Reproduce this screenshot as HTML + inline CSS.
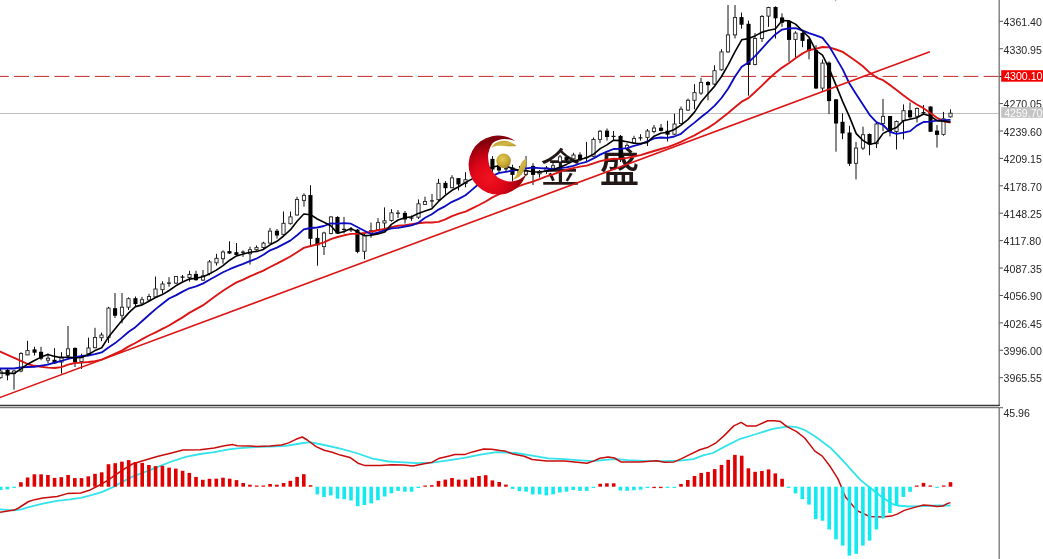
<!DOCTYPE html>
<html><head><meta charset="utf-8"><title>chart</title>
<style>
html,body{margin:0;padding:0;background:#fff;}
body{width:1043px;height:559px;overflow:hidden;position:relative;}
svg{position:absolute;left:0;top:0;display:block;}
.ax{font-family:"Liberation Sans",Arial,sans-serif;font-size:10.6px;fill:#262626;}
.cjk{font-family:"Liberation Sans","Noto Sans CJK SC",sans-serif;font-weight:400;font-size:40px;fill:#231815;}
</style></head><body>
<svg width="1043" height="559" viewBox="0 0 1043 559">
<defs>
<clipPath id="mainclip"><rect x="0" y="0" width="999" height="404.5"/></clipPath>
<clipPath id="subclip"><rect x="0" y="408" width="999" height="151"/></clipPath>
<radialGradient id="crg" gradientUnits="userSpaceOnUse" cx="489" cy="178" r="36">
<stop offset="0" stop-color="#f2121f"/><stop offset="0.45" stop-color="#de0619"/><stop offset="0.75" stop-color="#b4000f"/><stop offset="1" stop-color="#82000c"/>
</radialGradient>
<radialGradient id="gold" cx="0.42" cy="0.38" r="0.68">
<stop offset="0" stop-color="#e2cb55"/><stop offset="0.55" stop-color="#cbab36"/><stop offset="1" stop-color="#a58522"/>
</radialGradient>
<linearGradient id="gold2" x1="0" y1="0" x2="1" y2="1">
<stop offset="0" stop-color="#b59428"/><stop offset="0.5" stop-color="#d2b645"/><stop offset="1" stop-color="#a88a24"/>
</linearGradient>
</defs>

<g clip-path="url(#mainclip)">
<text class="cjk" x="540.5" y="181.5">金</text>
<text class="cjk" x="599.5" y="181.5" style="font-weight:500">盛</text>
<rect x="834.9" y="0" width="1.4" height="1.3" fill="#b0b0b0"/>
<line x1="0" y1="113.5" x2="999" y2="113.5" stroke="#c0c0c0" stroke-width="1"/>
<line x1="-6.2" y1="76.4" x2="999" y2="76.4" stroke="#c02a2a" stroke-width="1" stroke-dasharray="15 5.2"/>
<line x1="0.5" y1="368.3" x2="0.5" y2="378.5" stroke="#111" stroke-width="1"/>
<rect x="-1.1" y="371.0" width="3.2" height="6.7" fill="#fff" stroke="#222" stroke-width="0.9"/>
<line x1="7.5" y1="369.0" x2="7.5" y2="380.3" stroke="#111" stroke-width="1"/>
<rect x="5.5" y="369.9" width="4.1" height="5.6" fill="#000"/>
<line x1="14.0" y1="370.0" x2="14.0" y2="389.7" stroke="#111" stroke-width="1"/>
<rect x="12.4" y="371.0" width="3.2" height="2.6" fill="#fff" stroke="#222" stroke-width="0.9"/>
<line x1="21.0" y1="352.2" x2="21.0" y2="372.3" stroke="#111" stroke-width="1"/>
<rect x="19.4" y="353.5" width="3.2" height="17.5" fill="#fff" stroke="#222" stroke-width="0.9"/>
<line x1="27.5" y1="340.8" x2="27.5" y2="355.0" stroke="#111" stroke-width="1"/>
<rect x="25.9" y="350.6" width="3.2" height="4.3" fill="#fff" stroke="#222" stroke-width="0.9"/>
<line x1="34.5" y1="346.8" x2="34.5" y2="355.5" stroke="#111" stroke-width="1"/>
<rect x="32.5" y="349.4" width="4.1" height="3.3" fill="#000"/>
<line x1="41.0" y1="346.8" x2="41.0" y2="360.2" stroke="#111" stroke-width="1"/>
<rect x="39.0" y="351.8" width="4.1" height="6.9" fill="#000"/>
<line x1="48.0" y1="353.5" x2="48.0" y2="363.6" stroke="#111" stroke-width="1"/>
<rect x="46.4" y="358.2" width="3.2" height="2.0" fill="#fff" stroke="#222" stroke-width="0.9"/>
<line x1="54.5" y1="348.2" x2="54.5" y2="364.0" stroke="#111" stroke-width="1"/>
<rect x="52.5" y="359.8" width="4.1" height="3.7" fill="#000"/>
<line x1="61.5" y1="352.2" x2="61.5" y2="373.6" stroke="#111" stroke-width="1"/>
<rect x="59.9" y="357.0" width="3.2" height="5.0" fill="#fff" stroke="#222" stroke-width="0.9"/>
<line x1="68.0" y1="326.0" x2="68.0" y2="357.0" stroke="#111" stroke-width="1"/>
<rect x="66.4" y="348.8" width="3.2" height="6.7" fill="#fff" stroke="#222" stroke-width="0.9"/>
<line x1="75.0" y1="347.4" x2="75.0" y2="367.0" stroke="#111" stroke-width="1"/>
<rect x="73.0" y="347.9" width="4.1" height="14.3" fill="#000"/>
<line x1="81.5" y1="353.7" x2="81.5" y2="368.9" stroke="#111" stroke-width="1"/>
<rect x="79.9" y="357.0" width="3.2" height="4.7" fill="#fff" stroke="#222" stroke-width="0.9"/>
<line x1="88.5" y1="337.6" x2="88.5" y2="354.6" stroke="#111" stroke-width="1"/>
<rect x="86.9" y="348.0" width="3.2" height="5.7" fill="#fff" stroke="#222" stroke-width="0.9"/>
<line x1="95.0" y1="327.8" x2="95.0" y2="348.3" stroke="#111" stroke-width="1"/>
<rect x="93.4" y="337.5" width="3.2" height="10.2" fill="#fff" stroke="#222" stroke-width="0.9"/>
<line x1="101.5" y1="332.6" x2="101.5" y2="341.2" stroke="#111" stroke-width="1"/>
<rect x="99.9" y="335.0" width="3.2" height="2.7" fill="#fff" stroke="#222" stroke-width="0.9"/>
<line x1="108.5" y1="306.9" x2="108.5" y2="343.0" stroke="#111" stroke-width="1"/>
<rect x="106.9" y="308.1" width="3.2" height="29.6" fill="#fff" stroke="#222" stroke-width="0.9"/>
<line x1="115.0" y1="293.0" x2="115.0" y2="318.0" stroke="#111" stroke-width="1"/>
<rect x="113.0" y="308.2" width="4.1" height="7.5" fill="#000"/>
<line x1="122.0" y1="293.0" x2="122.0" y2="323.3" stroke="#111" stroke-width="1"/>
<rect x="120.4" y="307.2" width="3.2" height="8.1" fill="#fff" stroke="#222" stroke-width="0.9"/>
<line x1="128.5" y1="297.4" x2="128.5" y2="310.0" stroke="#111" stroke-width="1"/>
<rect x="126.9" y="298.7" width="3.2" height="8.5" fill="#fff" stroke="#222" stroke-width="0.9"/>
<line x1="135.5" y1="296.5" x2="135.5" y2="307.2" stroke="#111" stroke-width="1"/>
<rect x="133.4" y="298.2" width="4.1" height="5.9" fill="#000"/>
<line x1="142.0" y1="296.9" x2="142.0" y2="304.0" stroke="#111" stroke-width="1"/>
<rect x="140.4" y="299.7" width="3.2" height="3.4" fill="#fff" stroke="#222" stroke-width="0.9"/>
<line x1="149.0" y1="293.8" x2="149.0" y2="301.0" stroke="#111" stroke-width="1"/>
<rect x="147.4" y="296.5" width="3.2" height="3.5" fill="#fff" stroke="#222" stroke-width="0.9"/>
<line x1="155.5" y1="276.5" x2="155.5" y2="297.4" stroke="#111" stroke-width="1"/>
<rect x="153.9" y="289.0" width="3.2" height="7.9" fill="#fff" stroke="#222" stroke-width="0.9"/>
<line x1="162.5" y1="281.3" x2="162.5" y2="293.8" stroke="#111" stroke-width="1"/>
<rect x="160.9" y="284.0" width="3.2" height="5.7" fill="#fff" stroke="#222" stroke-width="0.9"/>
<line x1="169.0" y1="277.2" x2="169.0" y2="286.7" stroke="#111" stroke-width="1"/>
<line x1="167.0" y1="283.1" x2="171.0" y2="283.1" stroke="#111" stroke-width="1.2"/>
<line x1="176.0" y1="276.0" x2="176.0" y2="284.0" stroke="#111" stroke-width="1"/>
<rect x="174.4" y="276.5" width="3.2" height="6.6" fill="#fff" stroke="#222" stroke-width="0.9"/>
<line x1="182.5" y1="275.0" x2="182.5" y2="281.3" stroke="#111" stroke-width="1"/>
<line x1="180.5" y1="277.2" x2="184.5" y2="277.2" stroke="#111" stroke-width="1.2"/>
<line x1="189.5" y1="270.8" x2="189.5" y2="281.6" stroke="#111" stroke-width="1"/>
<rect x="187.9" y="274.5" width="3.2" height="3.1" fill="#fff" stroke="#222" stroke-width="0.9"/>
<line x1="196.0" y1="270.8" x2="196.0" y2="280.7" stroke="#111" stroke-width="1"/>
<rect x="193.9" y="273.9" width="4.1" height="6.3" fill="#000"/>
<line x1="203.0" y1="270.0" x2="203.0" y2="281.0" stroke="#111" stroke-width="1"/>
<rect x="201.4" y="275.8" width="3.2" height="4.3" fill="#fff" stroke="#222" stroke-width="0.9"/>
<line x1="209.5" y1="260.0" x2="209.5" y2="275.3" stroke="#111" stroke-width="1"/>
<rect x="207.9" y="261.9" width="3.2" height="11.6" fill="#fff" stroke="#222" stroke-width="0.9"/>
<line x1="216.5" y1="253.8" x2="216.5" y2="265.5" stroke="#111" stroke-width="1"/>
<rect x="214.9" y="258.3" width="3.2" height="4.5" fill="#fff" stroke="#222" stroke-width="0.9"/>
<line x1="223.0" y1="250.3" x2="223.0" y2="263.7" stroke="#111" stroke-width="1"/>
<rect x="221.4" y="252.0" width="3.2" height="6.7" fill="#fff" stroke="#222" stroke-width="0.9"/>
<line x1="229.5" y1="241.3" x2="229.5" y2="254.0" stroke="#111" stroke-width="1"/>
<rect x="227.4" y="251.1" width="4.1" height="2.4" fill="#000"/>
<line x1="236.5" y1="243.0" x2="236.5" y2="255.6" stroke="#111" stroke-width="1"/>
<rect x="234.4" y="252.2" width="4.1" height="2.7" fill="#000"/>
<line x1="243.0" y1="250.3" x2="243.0" y2="256.9" stroke="#111" stroke-width="1"/>
<line x1="241.0" y1="252.2" x2="245.0" y2="252.2" stroke="#111" stroke-width="1.2"/>
<line x1="250.0" y1="246.7" x2="250.0" y2="264.6" stroke="#111" stroke-width="1"/>
<rect x="248.4" y="249.7" width="3.2" height="4.1" fill="#fff" stroke="#222" stroke-width="0.9"/>
<line x1="256.5" y1="245.4" x2="256.5" y2="250.5" stroke="#111" stroke-width="1"/>
<rect x="254.9" y="247.6" width="3.2" height="2.1" fill="#fff" stroke="#222" stroke-width="0.9"/>
<line x1="263.5" y1="241.8" x2="263.5" y2="249.0" stroke="#111" stroke-width="1"/>
<rect x="261.9" y="243.1" width="3.2" height="4.5" fill="#fff" stroke="#222" stroke-width="0.9"/>
<line x1="270.0" y1="227.9" x2="270.0" y2="243.6" stroke="#111" stroke-width="1"/>
<rect x="268.4" y="231.1" width="3.2" height="12.0" fill="#fff" stroke="#222" stroke-width="0.9"/>
<line x1="277.0" y1="229.0" x2="277.0" y2="238.6" stroke="#111" stroke-width="1"/>
<rect x="274.9" y="230.7" width="4.1" height="4.8" fill="#000"/>
<line x1="283.5" y1="211.5" x2="283.5" y2="235.3" stroke="#111" stroke-width="1"/>
<rect x="281.9" y="223.3" width="3.2" height="11.1" fill="#fff" stroke="#222" stroke-width="0.9"/>
<line x1="290.5" y1="211.5" x2="290.5" y2="224.5" stroke="#111" stroke-width="1"/>
<rect x="288.9" y="216.9" width="3.2" height="6.8" fill="#fff" stroke="#222" stroke-width="0.9"/>
<line x1="297.0" y1="196.8" x2="297.0" y2="215.6" stroke="#111" stroke-width="1"/>
<rect x="295.4" y="199.5" width="3.2" height="15.5" fill="#fff" stroke="#222" stroke-width="0.9"/>
<line x1="304.0" y1="193.3" x2="304.0" y2="206.7" stroke="#111" stroke-width="1"/>
<rect x="302.4" y="195.4" width="3.2" height="5.0" fill="#fff" stroke="#222" stroke-width="0.9"/>
<line x1="310.5" y1="185.2" x2="310.5" y2="245.1" stroke="#111" stroke-width="1"/>
<rect x="308.4" y="195.0" width="4.1" height="43.8" fill="#000"/>
<line x1="317.5" y1="229.0" x2="317.5" y2="265.7" stroke="#111" stroke-width="1"/>
<rect x="315.4" y="237.9" width="4.1" height="7.4" fill="#000"/>
<line x1="324.0" y1="231.7" x2="324.0" y2="255.0" stroke="#111" stroke-width="1"/>
<rect x="322.4" y="233.0" width="3.2" height="13.6" fill="#fff" stroke="#222" stroke-width="0.9"/>
<line x1="331.0" y1="216.2" x2="331.0" y2="234.4" stroke="#111" stroke-width="1"/>
<rect x="329.4" y="216.9" width="3.2" height="16.6" fill="#fff" stroke="#222" stroke-width="0.9"/>
<line x1="337.5" y1="216.2" x2="337.5" y2="234.0" stroke="#111" stroke-width="1"/>
<rect x="335.4" y="217.0" width="4.1" height="16.5" fill="#000"/>
<line x1="344.0" y1="216.9" x2="344.0" y2="233.5" stroke="#111" stroke-width="1"/>
<line x1="342.0" y1="229.4" x2="346.0" y2="229.4" stroke="#111" stroke-width="1.2"/>
<line x1="351.0" y1="227.0" x2="351.0" y2="232.0" stroke="#111" stroke-width="1"/>
<line x1="349.0" y1="229.8" x2="353.0" y2="229.8" stroke="#111" stroke-width="1.2"/>
<line x1="357.5" y1="229.0" x2="357.5" y2="253.2" stroke="#111" stroke-width="1"/>
<rect x="355.4" y="229.6" width="4.1" height="22.3" fill="#000"/>
<line x1="364.5" y1="233.5" x2="364.5" y2="259.3" stroke="#111" stroke-width="1"/>
<rect x="362.9" y="235.2" width="3.2" height="16.1" fill="#fff" stroke="#222" stroke-width="0.9"/>
<line x1="371.0" y1="222.6" x2="371.0" y2="237.8" stroke="#111" stroke-width="1"/>
<rect x="369.4" y="230.7" width="3.2" height="2.6" fill="#fff" stroke="#222" stroke-width="0.9"/>
<line x1="378.0" y1="218.1" x2="378.0" y2="230.7" stroke="#111" stroke-width="1"/>
<rect x="376.4" y="222.6" width="3.2" height="7.2" fill="#fff" stroke="#222" stroke-width="0.9"/>
<line x1="384.5" y1="207.4" x2="384.5" y2="228.9" stroke="#111" stroke-width="1"/>
<rect x="382.9" y="220.8" width="3.2" height="2.2" fill="#fff" stroke="#222" stroke-width="0.9"/>
<line x1="391.5" y1="209.2" x2="391.5" y2="221.7" stroke="#111" stroke-width="1"/>
<rect x="389.9" y="212.8" width="3.2" height="7.7" fill="#fff" stroke="#222" stroke-width="0.9"/>
<line x1="398.0" y1="210.0" x2="398.0" y2="218.1" stroke="#111" stroke-width="1"/>
<line x1="396.0" y1="213.2" x2="400.0" y2="213.2" stroke="#111" stroke-width="1.2"/>
<line x1="405.0" y1="211.0" x2="405.0" y2="223.5" stroke="#111" stroke-width="1"/>
<rect x="402.9" y="212.9" width="4.1" height="6.6" fill="#000"/>
<line x1="411.5" y1="215.5" x2="411.5" y2="220.8" stroke="#111" stroke-width="1"/>
<line x1="409.5" y1="218.1" x2="413.5" y2="218.1" stroke="#111" stroke-width="1.2"/>
<line x1="418.5" y1="199.4" x2="418.5" y2="219.0" stroke="#111" stroke-width="1"/>
<rect x="416.9" y="203.8" width="3.2" height="13.4" fill="#fff" stroke="#222" stroke-width="0.9"/>
<line x1="425.0" y1="196.7" x2="425.0" y2="205.0" stroke="#111" stroke-width="1"/>
<rect x="423.4" y="201.5" width="3.2" height="2.9" fill="#fff" stroke="#222" stroke-width="0.9"/>
<line x1="432.0" y1="194.0" x2="432.0" y2="207.4" stroke="#111" stroke-width="1"/>
<line x1="430.0" y1="200.9" x2="434.0" y2="200.9" stroke="#111" stroke-width="1.2"/>
<line x1="438.5" y1="178.8" x2="438.5" y2="201.0" stroke="#111" stroke-width="1"/>
<rect x="436.9" y="183.3" width="3.2" height="16.4" fill="#fff" stroke="#222" stroke-width="0.9"/>
<line x1="445.5" y1="181.1" x2="445.5" y2="194.0" stroke="#111" stroke-width="1"/>
<rect x="443.4" y="182.9" width="4.1" height="5.3" fill="#000"/>
<line x1="452.0" y1="175.2" x2="452.0" y2="188.3" stroke="#111" stroke-width="1"/>
<rect x="450.4" y="177.9" width="3.2" height="9.8" fill="#fff" stroke="#222" stroke-width="0.9"/>
<line x1="458.5" y1="178.0" x2="458.5" y2="190.5" stroke="#111" stroke-width="1"/>
<rect x="456.4" y="178.1" width="4.1" height="6.4" fill="#000"/>
<line x1="465.5" y1="172.2" x2="465.5" y2="187.3" stroke="#111" stroke-width="1"/>
<rect x="463.9" y="179.7" width="3.2" height="3.8" fill="#fff" stroke="#222" stroke-width="0.9"/>
<line x1="472.0" y1="162.0" x2="472.0" y2="172.0" stroke="#111" stroke-width="1"/>
<rect x="470.4" y="165.0" width="3.2" height="5.0" fill="#fff" stroke="#222" stroke-width="0.9"/>
<line x1="479.0" y1="160.0" x2="479.0" y2="169.0" stroke="#111" stroke-width="1"/>
<rect x="477.4" y="163.0" width="3.2" height="4.0" fill="#fff" stroke="#222" stroke-width="0.9"/>
<line x1="485.5" y1="157.0" x2="485.5" y2="166.0" stroke="#111" stroke-width="1"/>
<rect x="483.9" y="160.0" width="3.2" height="4.0" fill="#fff" stroke="#222" stroke-width="0.9"/>
<line x1="492.5" y1="156.1" x2="492.5" y2="172.0" stroke="#111" stroke-width="1"/>
<rect x="490.4" y="158.9" width="4.1" height="10.6" fill="#000"/>
<line x1="499.0" y1="163.0" x2="499.0" y2="172.7" stroke="#111" stroke-width="1"/>
<rect x="496.9" y="165.6" width="4.1" height="4.9" fill="#000"/>
<line x1="506.0" y1="165.0" x2="506.0" y2="172.0" stroke="#111" stroke-width="1"/>
<line x1="504.0" y1="168.8" x2="508.0" y2="168.8" stroke="#111" stroke-width="1.2"/>
<line x1="512.5" y1="164.7" x2="512.5" y2="181.4" stroke="#111" stroke-width="1"/>
<rect x="510.4" y="167.5" width="4.1" height="7.4" fill="#000"/>
<line x1="519.5" y1="166.0" x2="519.5" y2="176.0" stroke="#111" stroke-width="1"/>
<rect x="517.9" y="170.0" width="3.2" height="4.0" fill="#fff" stroke="#222" stroke-width="0.9"/>
<line x1="526.0" y1="156.1" x2="526.0" y2="176.0" stroke="#111" stroke-width="1"/>
<rect x="524.4" y="171.0" width="3.2" height="3.4" fill="#fff" stroke="#222" stroke-width="0.9"/>
<line x1="533.0" y1="163.2" x2="533.0" y2="185.0" stroke="#111" stroke-width="1"/>
<rect x="531.0" y="165.9" width="4.1" height="9.0" fill="#000"/>
<line x1="539.5" y1="170.0" x2="539.5" y2="177.6" stroke="#111" stroke-width="1"/>
<rect x="537.9" y="171.3" width="3.2" height="2.5" fill="#fff" stroke="#222" stroke-width="0.9"/>
<line x1="546.5" y1="166.0" x2="546.5" y2="174.0" stroke="#111" stroke-width="1"/>
<rect x="544.9" y="168.0" width="3.2" height="3.5" fill="#fff" stroke="#222" stroke-width="0.9"/>
<line x1="553.0" y1="162.6" x2="553.0" y2="169.0" stroke="#111" stroke-width="1"/>
<rect x="551.4" y="165.7" width="3.2" height="2.5" fill="#fff" stroke="#222" stroke-width="0.9"/>
<line x1="560.0" y1="155.0" x2="560.0" y2="163.0" stroke="#111" stroke-width="1"/>
<rect x="558.4" y="156.9" width="3.2" height="5.0" fill="#fff" stroke="#222" stroke-width="0.9"/>
<line x1="566.5" y1="156.0" x2="566.5" y2="162.0" stroke="#111" stroke-width="1"/>
<rect x="564.5" y="157.1" width="4.1" height="3.4" fill="#000"/>
<line x1="573.5" y1="152.8" x2="573.5" y2="159.5" stroke="#111" stroke-width="1"/>
<rect x="571.9" y="155.0" width="3.2" height="3.8" fill="#fff" stroke="#222" stroke-width="0.9"/>
<line x1="580.0" y1="152.3" x2="580.0" y2="161.3" stroke="#111" stroke-width="1"/>
<rect x="578.0" y="154.6" width="4.1" height="5.7" fill="#000"/>
<line x1="586.5" y1="141.9" x2="586.5" y2="161.3" stroke="#111" stroke-width="1"/>
<line x1="584.5" y1="157.5" x2="588.5" y2="157.5" stroke="#111" stroke-width="1.2"/>
<line x1="593.5" y1="137.5" x2="593.5" y2="157.0" stroke="#111" stroke-width="1"/>
<rect x="591.9" y="139.4" width="3.2" height="16.9" fill="#fff" stroke="#222" stroke-width="0.9"/>
<line x1="600.0" y1="130.0" x2="600.0" y2="143.2" stroke="#111" stroke-width="1"/>
<rect x="598.4" y="131.3" width="3.2" height="8.1" fill="#fff" stroke="#222" stroke-width="0.9"/>
<line x1="607.0" y1="128.5" x2="607.0" y2="140.6" stroke="#111" stroke-width="1"/>
<rect x="605.0" y="130.6" width="4.1" height="6.4" fill="#000"/>
<line x1="613.5" y1="131.0" x2="613.5" y2="140.0" stroke="#111" stroke-width="1"/>
<line x1="611.5" y1="136.4" x2="615.5" y2="136.4" stroke="#111" stroke-width="1.2"/>
<line x1="620.5" y1="135.0" x2="620.5" y2="162.0" stroke="#111" stroke-width="1"/>
<rect x="618.5" y="135.9" width="4.1" height="23.9" fill="#000"/>
<line x1="627.0" y1="143.3" x2="627.0" y2="150.0" stroke="#111" stroke-width="1"/>
<rect x="625.4" y="145.4" width="3.2" height="3.3" fill="#fff" stroke="#222" stroke-width="0.9"/>
<line x1="634.0" y1="135.8" x2="634.0" y2="143.2" stroke="#111" stroke-width="1"/>
<rect x="632.4" y="138.5" width="3.2" height="4.3" fill="#fff" stroke="#222" stroke-width="0.9"/>
<line x1="640.5" y1="134.2" x2="640.5" y2="140.6" stroke="#111" stroke-width="1"/>
<line x1="638.5" y1="137.9" x2="642.5" y2="137.9" stroke="#111" stroke-width="1.2"/>
<line x1="647.5" y1="129.0" x2="647.5" y2="146.0" stroke="#111" stroke-width="1"/>
<rect x="645.9" y="131.0" width="3.2" height="6.4" fill="#fff" stroke="#222" stroke-width="0.9"/>
<line x1="654.0" y1="125.0" x2="654.0" y2="133.3" stroke="#111" stroke-width="1"/>
<rect x="652.4" y="128.0" width="3.2" height="3.5" fill="#fff" stroke="#222" stroke-width="0.9"/>
<line x1="661.0" y1="124.0" x2="661.0" y2="131.6" stroke="#111" stroke-width="1"/>
<rect x="659.0" y="127.7" width="4.1" height="3.2" fill="#000"/>
<line x1="667.5" y1="120.7" x2="667.5" y2="141.5" stroke="#111" stroke-width="1"/>
<rect x="665.5" y="130.7" width="4.1" height="4.0" fill="#000"/>
<line x1="674.5" y1="113.7" x2="674.5" y2="135.1" stroke="#111" stroke-width="1"/>
<rect x="672.9" y="124.0" width="3.2" height="10.2" fill="#fff" stroke="#222" stroke-width="0.9"/>
<line x1="681.0" y1="106.5" x2="681.0" y2="124.0" stroke="#111" stroke-width="1"/>
<rect x="679.4" y="109.2" width="3.2" height="14.3" fill="#fff" stroke="#222" stroke-width="0.9"/>
<line x1="688.0" y1="98.5" x2="688.0" y2="111.0" stroke="#111" stroke-width="1"/>
<rect x="686.4" y="100.3" width="3.2" height="9.8" fill="#fff" stroke="#222" stroke-width="0.9"/>
<line x1="694.5" y1="84.2" x2="694.5" y2="109.2" stroke="#111" stroke-width="1"/>
<rect x="692.9" y="92.6" width="3.2" height="7.7" fill="#fff" stroke="#222" stroke-width="0.9"/>
<line x1="701.0" y1="77.9" x2="701.0" y2="94.9" stroke="#111" stroke-width="1"/>
<rect x="699.4" y="82.4" width="3.2" height="10.7" fill="#fff" stroke="#222" stroke-width="0.9"/>
<line x1="708.0" y1="81.0" x2="708.0" y2="100.3" stroke="#111" stroke-width="1"/>
<rect x="706.0" y="82.0" width="4.1" height="3.2" fill="#000"/>
<line x1="714.5" y1="65.3" x2="714.5" y2="85.0" stroke="#111" stroke-width="1"/>
<rect x="712.9" y="70.7" width="3.2" height="13.4" fill="#fff" stroke="#222" stroke-width="0.9"/>
<line x1="721.5" y1="49.2" x2="721.5" y2="70.7" stroke="#111" stroke-width="1"/>
<rect x="719.9" y="51.9" width="3.2" height="17.9" fill="#fff" stroke="#222" stroke-width="0.9"/>
<line x1="728.0" y1="5.0" x2="728.0" y2="52.8" stroke="#111" stroke-width="1"/>
<rect x="726.4" y="34.9" width="3.2" height="17.0" fill="#fff" stroke="#222" stroke-width="0.9"/>
<line x1="735.0" y1="5.0" x2="735.0" y2="38.5" stroke="#111" stroke-width="1"/>
<rect x="733.4" y="17.5" width="3.2" height="17.4" fill="#fff" stroke="#222" stroke-width="0.9"/>
<line x1="741.5" y1="12.5" x2="741.5" y2="28.6" stroke="#111" stroke-width="1"/>
<rect x="739.5" y="17.1" width="4.1" height="7.6" fill="#000"/>
<line x1="748.5" y1="20.6" x2="748.5" y2="95.7" stroke="#111" stroke-width="1"/>
<rect x="746.5" y="23.8" width="4.1" height="41.1" fill="#000"/>
<line x1="755.0" y1="33.1" x2="755.0" y2="65.3" stroke="#111" stroke-width="1"/>
<rect x="753.4" y="38.5" width="3.2" height="25.9" fill="#fff" stroke="#222" stroke-width="0.9"/>
<line x1="762.0" y1="15.0" x2="762.0" y2="42.0" stroke="#111" stroke-width="1"/>
<rect x="760.4" y="16.5" width="3.2" height="22.0" fill="#fff" stroke="#222" stroke-width="0.9"/>
<line x1="768.5" y1="6.8" x2="768.5" y2="26.8" stroke="#111" stroke-width="1"/>
<rect x="766.9" y="7.5" width="3.2" height="8.6" fill="#fff" stroke="#222" stroke-width="0.9"/>
<line x1="775.5" y1="6.3" x2="775.5" y2="38.5" stroke="#111" stroke-width="1"/>
<rect x="773.5" y="7.0" width="4.1" height="11.3" fill="#000"/>
<line x1="782.0" y1="13.4" x2="782.0" y2="26.8" stroke="#111" stroke-width="1"/>
<rect x="780.0" y="17.4" width="4.1" height="5.4" fill="#000"/>
<line x1="789.0" y1="20.0" x2="789.0" y2="61.7" stroke="#111" stroke-width="1"/>
<rect x="787.0" y="21.1" width="4.1" height="18.8" fill="#000"/>
<line x1="795.5" y1="31.3" x2="795.5" y2="57.2" stroke="#111" stroke-width="1"/>
<rect x="793.9" y="33.1" width="3.2" height="6.3" fill="#fff" stroke="#222" stroke-width="0.9"/>
<line x1="802.5" y1="32.2" x2="802.5" y2="47.2" stroke="#111" stroke-width="1"/>
<rect x="800.5" y="32.9" width="4.1" height="8.0" fill="#000"/>
<line x1="809.0" y1="38.5" x2="809.0" y2="59.3" stroke="#111" stroke-width="1"/>
<rect x="807.0" y="39.2" width="4.1" height="11.7" fill="#000"/>
<line x1="816.0" y1="45.2" x2="816.0" y2="89.0" stroke="#111" stroke-width="1"/>
<rect x="814.0" y="50.1" width="4.1" height="38.4" fill="#000"/>
<line x1="822.5" y1="59.5" x2="822.5" y2="90.8" stroke="#111" stroke-width="1"/>
<rect x="820.9" y="63.1" width="3.2" height="25.0" fill="#fff" stroke="#222" stroke-width="0.9"/>
<line x1="829.0" y1="61.3" x2="829.0" y2="114.1" stroke="#111" stroke-width="1"/>
<rect x="827.0" y="62.6" width="4.1" height="38.5" fill="#000"/>
<line x1="836.0" y1="99.0" x2="836.0" y2="151.7" stroke="#111" stroke-width="1"/>
<rect x="834.0" y="99.3" width="4.1" height="24.2" fill="#000"/>
<line x1="842.5" y1="113.3" x2="842.5" y2="139.2" stroke="#111" stroke-width="1"/>
<rect x="840.5" y="121.8" width="4.1" height="11.6" fill="#000"/>
<line x1="849.5" y1="125.8" x2="849.5" y2="166.0" stroke="#111" stroke-width="1"/>
<rect x="847.5" y="132.5" width="4.1" height="31.3" fill="#000"/>
<line x1="856.0" y1="141.9" x2="856.0" y2="179.4" stroke="#111" stroke-width="1"/>
<rect x="854.4" y="148.1" width="3.2" height="15.2" fill="#fff" stroke="#222" stroke-width="0.9"/>
<line x1="863.0" y1="126.7" x2="863.0" y2="150.0" stroke="#111" stroke-width="1"/>
<rect x="861.4" y="134.7" width="3.2" height="13.4" fill="#fff" stroke="#222" stroke-width="0.9"/>
<line x1="869.5" y1="133.5" x2="869.5" y2="155.3" stroke="#111" stroke-width="1"/>
<rect x="867.5" y="134.0" width="4.1" height="10.2" fill="#000"/>
<line x1="876.5" y1="123.0" x2="876.5" y2="148.1" stroke="#111" stroke-width="1"/>
<rect x="874.9" y="124.0" width="3.2" height="19.7" fill="#fff" stroke="#222" stroke-width="0.9"/>
<line x1="883.0" y1="98.9" x2="883.0" y2="131.2" stroke="#111" stroke-width="1"/>
<rect x="881.4" y="116.4" width="3.2" height="7.0" fill="#fff" stroke="#222" stroke-width="0.9"/>
<line x1="890.0" y1="116.0" x2="890.0" y2="136.4" stroke="#111" stroke-width="1"/>
<rect x="888.0" y="116.0" width="4.1" height="15.6" fill="#000"/>
<line x1="896.5" y1="120.5" x2="896.5" y2="149.5" stroke="#111" stroke-width="1"/>
<rect x="894.9" y="121.5" width="3.2" height="10.0" fill="#fff" stroke="#222" stroke-width="0.9"/>
<line x1="903.5" y1="104.4" x2="903.5" y2="139.4" stroke="#111" stroke-width="1"/>
<rect x="901.9" y="110.7" width="3.2" height="10.0" fill="#fff" stroke="#222" stroke-width="0.9"/>
<line x1="910.0" y1="102.5" x2="910.0" y2="118.8" stroke="#111" stroke-width="1"/>
<rect x="908.0" y="110.2" width="4.1" height="7.1" fill="#000"/>
<line x1="917.0" y1="107.5" x2="917.0" y2="122.5" stroke="#111" stroke-width="1"/>
<rect x="915.4" y="108.5" width="3.2" height="7.8" fill="#fff" stroke="#222" stroke-width="0.9"/>
<line x1="923.5" y1="105.0" x2="923.5" y2="114.0" stroke="#111" stroke-width="1"/>
<line x1="921.5" y1="112.6" x2="925.5" y2="112.6" stroke="#111" stroke-width="1.2"/>
<line x1="930.5" y1="106.3" x2="930.5" y2="131.9" stroke="#111" stroke-width="1"/>
<rect x="928.5" y="106.5" width="4.1" height="25.3" fill="#000"/>
<line x1="937.0" y1="125.0" x2="937.0" y2="147.6" stroke="#111" stroke-width="1"/>
<rect x="935.0" y="130.6" width="4.1" height="4.3" fill="#000"/>
<line x1="943.5" y1="111.9" x2="943.5" y2="135.7" stroke="#111" stroke-width="1"/>
<rect x="941.9" y="118.8" width="3.2" height="15.6" fill="#fff" stroke="#222" stroke-width="0.9"/>
<line x1="950.5" y1="109.4" x2="950.5" y2="117.5" stroke="#111" stroke-width="1"/>
<rect x="948.9" y="113.2" width="3.2" height="3.7" fill="#fff" stroke="#222" stroke-width="0.9"/>
<polyline points="-6.0,349.0 0.7,351.9 7.4,354.8 14.2,357.8 20.9,360.9 27.6,364.0 34.4,365.8 41.1,366.8 47.9,367.6 54.6,368.0 61.3,367.1 68.1,364.6 74.8,363.0 81.5,362.6 88.3,362.0 95.0,361.2 101.7,359.6 108.5,356.6 115.2,353.6 121.9,350.6 128.7,346.4 135.4,343.0 142.2,339.2 148.9,335.5 155.6,332.3 162.4,328.9 169.1,325.5 175.8,321.4 182.6,317.4 189.3,312.9 196.0,309.1 202.8,305.4 209.5,300.4 216.3,295.5 223.0,290.7 229.7,286.5 236.5,282.4 243.2,279.6 249.9,276.4 256.7,273.4 263.4,270.6 270.1,267.0 276.9,263.7 283.6,260.1 290.3,256.5 297.1,252.2 303.8,247.9 310.6,246.0 317.3,244.3 324.0,242.3 330.8,239.1 337.5,237.0 344.2,235.3 351.0,233.9 357.7,233.9 364.4,233.0 371.2,231.8 377.9,230.3 384.7,228.9 391.4,227.1 398.1,225.7 404.9,225.1 411.6,224.2 418.3,223.2 425.1,222.5 431.8,222.5 438.5,221.9 445.3,219.4 452.0,216.1 458.7,213.6 465.5,211.7 472.2,208.3 479.0,205.0 485.7,201.5 492.4,197.4 499.2,194.1 505.9,191.0 512.6,188.5 519.4,185.9 526.1,183.7 532.8,181.7 539.6,179.1 546.3,176.4 553.1,174.3 559.8,171.9 566.5,169.7 573.3,168.1 580.0,166.6 586.7,165.6 593.5,163.4 600.2,161.1 606.9,159.8 613.7,158.7 620.4,158.9 627.1,157.9 633.9,156.5 640.6,155.1 647.4,153.0 654.1,151.0 660.8,149.0 667.6,147.1 674.3,144.7 681.0,141.8 687.8,138.5 694.5,135.3 701.2,131.5 708.0,127.9 714.7,123.5 721.5,118.2 728.2,113.0 734.9,107.3 741.7,101.7 748.4,98.1 755.1,92.0 761.9,85.6 768.6,79.0 775.3,73.0 782.1,67.6 788.8,63.2 795.5,58.3 802.3,53.6 809.0,50.0 815.8,48.9 822.5,47.0 829.2,47.4 836.0,49.5 842.7,51.9 849.4,56.5 856.2,61.3 862.9,66.3 869.6,72.6 876.4,77.6 883.1,80.2 889.9,84.9 896.6,90.1 903.3,95.3 910.1,100.2 916.8,104.5 923.5,108.2 930.3,113.1 937.0,117.8 943.7,121.2 950.5,122.5" fill="none" stroke="#dc1414" stroke-width="1.9" stroke-linejoin="round"/>
<polyline points="-6.0,368.5 0.7,368.5 7.4,368.5 14.2,368.5 20.9,367.4 27.6,367.0 34.4,366.8 41.1,365.6 47.9,364.6 54.6,362.6 61.3,361.0 68.1,358.8 74.8,357.4 81.5,356.0 88.3,355.5 95.0,354.2 101.7,352.4 108.5,347.4 115.2,343.1 121.9,337.6 128.7,331.7 135.4,327.2 142.2,321.0 148.9,315.0 155.6,309.1 162.4,303.7 169.1,298.5 175.8,295.4 182.6,291.6 189.3,288.3 196.0,286.4 202.8,283.6 209.5,279.8 216.3,276.0 223.0,272.3 229.7,269.2 236.5,266.3 243.2,263.9 249.9,261.2 256.7,258.5 263.4,254.8 270.1,250.3 276.9,247.6 283.6,244.1 290.3,240.6 297.1,235.3 303.8,229.4 310.6,228.0 317.3,227.5 324.0,226.0 330.8,223.4 337.5,223.6 344.2,223.1 351.0,223.7 357.7,227.2 364.4,230.7 371.2,234.2 377.9,232.7 384.7,230.3 391.4,228.3 398.1,227.9 404.9,226.5 411.6,225.4 418.3,222.8 425.1,217.8 431.8,214.3 438.5,209.6 445.3,206.1 452.0,201.8 458.7,198.9 465.5,195.3 472.2,189.6 479.0,183.8 485.7,179.3 492.4,175.9 499.2,172.9 505.9,171.8 512.6,170.6 519.4,169.7 526.1,168.3 532.8,167.6 539.6,168.1 546.3,168.5 553.1,169.2 559.8,168.2 566.5,167.3 573.3,165.8 580.0,163.5 586.7,161.8 593.5,158.4 600.2,154.6 606.9,151.7 613.7,149.0 620.4,148.9 627.1,148.1 633.9,145.9 640.6,144.2 647.4,141.3 654.1,138.4 660.8,137.5 667.6,137.8 674.3,136.5 681.0,133.8 687.8,127.9 694.5,122.6 701.2,117.0 708.0,111.7 714.7,105.7 721.5,98.0 728.2,88.5 734.9,76.8 741.7,66.8 748.4,62.4 755.1,56.2 761.9,48.6 768.6,41.1 775.3,34.4 782.1,29.6 788.8,28.3 795.5,28.1 802.3,30.4 809.0,33.1 815.8,35.4 822.5,37.9 829.2,46.3 836.0,57.9 842.7,69.4 849.4,83.5 856.2,94.3 862.9,104.5 869.6,114.8 876.4,122.2 883.1,125.0 889.9,131.8 896.6,133.9 903.3,132.7 910.1,131.1 916.8,125.6 923.5,122.0 930.3,121.7 937.0,120.7 943.7,120.2 950.5,119.9" fill="none" stroke="#0a0ac4" stroke-width="1.8" stroke-linejoin="round"/>
<polyline points="-6.0,372.8 0.7,373.0 7.4,373.2 14.2,373.4 20.9,369.0 27.6,364.2 34.4,360.5 41.1,357.1 47.9,354.5 54.6,356.4 61.3,357.7 68.1,357.0 74.8,357.7 81.5,357.5 88.3,354.5 95.0,350.6 101.7,347.8 108.5,337.1 115.2,328.8 121.9,320.6 128.7,312.9 135.4,306.6 142.2,304.9 148.9,301.2 155.6,297.5 162.4,294.6 169.1,290.5 175.8,285.8 182.6,282.0 189.3,279.1 196.0,278.2 202.8,276.8 209.5,273.9 216.3,270.1 223.0,265.6 229.7,260.2 236.5,255.9 243.2,254.0 249.9,252.3 256.7,251.4 263.4,249.4 270.1,244.8 276.9,241.3 283.6,236.0 290.3,229.9 297.1,221.2 303.8,214.0 310.6,214.7 317.3,219.0 324.0,222.2 330.8,225.7 337.5,233.2 344.2,231.4 351.0,228.4 357.7,232.1 364.4,235.8 371.2,235.3 377.9,233.9 384.7,232.1 391.4,224.4 398.1,220.0 404.9,217.7 411.6,216.8 418.3,213.4 425.1,211.1 431.8,208.7 438.5,201.5 445.3,195.4 452.0,190.3 458.7,186.8 465.5,182.5 472.2,178.9 479.0,173.9 485.7,170.3 492.4,167.3 499.2,165.4 505.9,166.2 512.6,168.4 519.4,170.4 526.1,170.8 532.8,171.7 539.6,172.2 546.3,170.9 553.1,170.1 559.8,167.3 566.5,164.4 573.3,161.1 580.0,159.5 586.7,157.8 593.5,154.3 600.2,148.6 606.9,144.9 613.7,140.2 620.4,140.6 627.1,141.8 633.9,143.2 640.6,143.5 647.4,142.4 654.1,136.2 660.8,133.2 667.6,132.3 674.3,129.5 681.0,125.2 687.8,119.6 694.5,112.1 701.2,101.7 708.0,93.8 714.7,86.1 721.5,76.5 728.2,64.9 734.9,51.9 741.7,39.8 748.4,38.6 755.1,35.9 761.9,32.2 768.6,30.2 775.3,29.0 782.1,20.6 788.8,20.7 795.5,24.1 802.3,30.7 809.0,37.2 815.8,50.3 822.5,55.1 829.2,68.6 836.0,85.1 842.7,101.6 849.4,116.6 856.2,133.6 862.9,140.4 869.6,144.5 876.4,142.8 883.1,133.4 889.9,130.0 896.6,127.4 903.3,120.8 910.1,119.3 916.8,117.8 923.5,114.0 930.3,116.0 937.0,120.7 943.7,121.1 950.5,122.0" fill="none" stroke="#000" stroke-width="1.6" stroke-linejoin="round"/>
<line x1="-10" y1="401.2" x2="929.8" y2="51.7" stroke="#dc1414" stroke-width="1.6"/>
<g>
<path d="M515.9,141.4 A29.55,29.55 0 1 0 527.0,171.6 C526.5,172.4 525.5,174.9 524.0,176.3 C522.5,177.7 520.4,179.1 518.0,180.0 C515.6,180.9 512.1,181.6 509.4,181.5 C506.7,181.4 504.3,180.5 502.0,179.5 C499.7,178.5 497.8,177.5 495.8,175.4 C493.8,173.3 491.3,170.3 490.0,167.2 C488.7,164.1 488.3,159.5 488.1,156.9 C487.9,154.3 488.4,153.3 488.9,151.5 C489.3,149.7 490.1,147.6 490.8,146.1 C491.6,144.6 492.1,143.4 493.4,142.4 C494.7,141.4 497.0,140.6 498.8,140.0 C500.6,139.4 502.4,139.0 504.2,138.9 C506.0,138.8 508.0,139.1 509.6,139.4 C511.2,139.7 512.5,140.2 513.6,140.5 C514.7,140.8 515.5,141.3 515.9,141.4 Z" fill="url(#crg)"/>
<circle cx="503.6" cy="160.8" r="7.3" fill="url(#gold)"/>
<path d="M491.4,148.2 C491.7,147.7 492.4,145.9 493.2,145.0 C494.0,144.1 494.7,143.4 496.1,142.7 C497.5,142.0 499.7,141.2 501.5,140.9 C503.3,140.6 505.1,140.8 506.9,141.1 C508.7,141.4 510.7,142.2 512.3,143.0 C513.8,143.8 516.2,145.1 516.2,145.7 C516.2,146.2 513.8,146.2 512.3,146.3 C510.7,146.4 508.7,146.4 506.9,146.3 C505.1,146.2 503.3,145.9 501.5,145.8 C499.7,145.8 497.5,145.8 496.1,146.0 C494.7,146.2 493.8,146.6 493.0,147.0 C492.2,147.4 491.7,148.0 491.4,148.2 Z" fill="url(#gold2)"/>
<path d="M525.8,158.6 C525.9,159.4 526.4,161.5 526.2,163.2 C526.0,164.9 525.6,167.1 524.8,169.0 C524.0,170.9 522.7,173.0 521.5,174.5 C520.3,176.0 519.0,177.0 517.5,177.8 C516.0,178.7 513.1,179.9 512.8,179.6 C512.5,179.3 514.7,177.4 515.5,176.2 C516.3,175.0 517.0,173.9 517.6,172.5 C518.2,171.1 518.7,169.5 519.3,168.0 C519.9,166.5 520.3,164.8 521.0,163.5 C521.7,162.2 522.5,161.2 523.3,160.4 C524.1,159.6 525.4,158.9 525.8,158.6 Z" fill="url(#gold2)"/>
</g>
</g>
<line x1="999.2" y1="0" x2="999.2" y2="406" stroke="#7c7c7c" stroke-width="1.4"/>
<line x1="999.2" y1="407" x2="999.2" y2="559" stroke="#7c7c7c" stroke-width="1.4"/>
<line x1="0" y1="405.4" x2="999.9" y2="405.4" stroke="#383838" stroke-width="1.2"/>
<line x1="0" y1="406.6" x2="999" y2="406.6" stroke="#b4b4b4" stroke-width="0.8"/>
<line x1="0" y1="407.6" x2="1003" y2="407.6" stroke="#7a7a7a" stroke-width="1.2"/>
<line x1="999.5" y1="21.35" x2="1003" y2="21.35" stroke="#505050" stroke-width="1"/>
<text class="ax" x="1003.6" y="26.1">4361.40</text>
<line x1="999.5" y1="48.76" x2="1003" y2="48.76" stroke="#505050" stroke-width="1"/>
<text class="ax" x="1003.6" y="53.5">4330.95</text>
<line x1="999.5" y1="103.58" x2="1003" y2="103.58" stroke="#505050" stroke-width="1"/>
<text class="ax" x="1003.6" y="108.3">4270.05</text>
<line x1="999.5" y1="130.99" x2="1003" y2="130.99" stroke="#505050" stroke-width="1"/>
<text class="ax" x="1003.6" y="135.7">4239.60</text>
<line x1="999.5" y1="158.40" x2="1003" y2="158.40" stroke="#505050" stroke-width="1"/>
<text class="ax" x="1003.6" y="163.1">4209.15</text>
<line x1="999.5" y1="185.81" x2="1003" y2="185.81" stroke="#505050" stroke-width="1"/>
<text class="ax" x="1003.6" y="190.5">4178.70</text>
<line x1="999.5" y1="213.22" x2="1003" y2="213.22" stroke="#505050" stroke-width="1"/>
<text class="ax" x="1003.6" y="217.9">4148.25</text>
<line x1="999.5" y1="240.63" x2="1003" y2="240.63" stroke="#505050" stroke-width="1"/>
<text class="ax" x="1003.6" y="245.3">4117.80</text>
<line x1="999.5" y1="268.04" x2="1003" y2="268.04" stroke="#505050" stroke-width="1"/>
<text class="ax" x="1003.6" y="272.7">4087.35</text>
<line x1="999.5" y1="295.45" x2="1003" y2="295.45" stroke="#505050" stroke-width="1"/>
<text class="ax" x="1003.6" y="300.2">4056.90</text>
<line x1="999.5" y1="322.86" x2="1003" y2="322.86" stroke="#505050" stroke-width="1"/>
<text class="ax" x="1003.6" y="327.6">4026.45</text>
<line x1="999.5" y1="350.27" x2="1003" y2="350.27" stroke="#505050" stroke-width="1"/>
<text class="ax" x="1003.6" y="355.0">3996.00</text>
<line x1="999.5" y1="377.68" x2="1003" y2="377.68" stroke="#505050" stroke-width="1"/>
<text class="ax" x="1003.6" y="382.4">3965.55</text>
<line x1="999.5" y1="76.5" x2="1002" y2="76.5" stroke="#202020" stroke-width="1"/>
<rect x="1001.2" y="70.2" width="45" height="11.5" fill="#f20000"/>
<text class="ax" x="1004.2" y="80.2" style="fill:#fff">4300.10</text>
<rect x="1001.2" y="107.2" width="45" height="10.6" fill="#c4c4c4"/>
<text class="ax" x="1004.2" y="116.9" style="fill:#fafafa">4259.70</text>
<text class="ax" x="1003.4" y="417.4">45.96</text>
<g clip-path="url(#subclip)">
<polyline points="0.0,509.4 14.3,510.4 21.5,509.4 28.6,507.2 42.9,503.7 57.2,500.8 70.0,499.4 80.7,497.8 91.5,495.1 102.2,491.9 113.0,487.1 123.7,481.1 134.4,475.8 142.9,472.9 157.2,467.2 171.5,461.5 185.8,456.9 200.1,454.0 214.3,452.2 228.6,449.3 242.9,447.9 257.2,446.9 271.5,446.5 285.8,445.8 300.1,443.5 309.7,442.2 324.2,445.0 340.3,448.7 356.4,453.0 372.5,458.6 388.6,461.5 399.8,462.2 416.1,463.2 432.2,462.7 448.3,460.3 464.4,457.8 480.5,454.6 496.6,452.2 516.1,453.0 532.2,455.7 548.3,458.3 564.4,459.1 580.5,460.3 593.4,461.1 608.0,459.7 616.1,459.1 627.4,460.2 648.3,461.2 664.4,461.2 680.5,460.7 693.4,459.1 703.1,455.4 712.9,453.0 724.2,446.9 740.3,438.8 756.4,434.0 772.5,428.8 788.6,426.3 796.6,427.2 804.7,430.0 814.9,436.2 830.4,447.7 838.0,455.5 845.7,463.7 853.0,471.8 860.9,480.4 870.7,488.2 881.5,496.8 892.2,503.8 897.2,505.5 908.6,506.5 922.9,506.1 937.2,505.5 950.5,505.5" fill="none" stroke="#34e2ec" stroke-width="1.8" stroke-linejoin="round"/>
<polyline points="0.0,512.2 14.3,510.1 18.6,508.0 28.6,501.5 35.8,499.4 42.9,498.0 57.2,496.5 67.2,493.6 80.7,493.0 89.3,490.3 97.9,486.0 106.5,481.1 115.1,475.2 123.7,469.3 132.3,464.0 142.9,460.8 157.2,456.5 171.5,452.9 183.0,450.0 200.1,449.8 214.3,447.9 224.3,445.8 232.9,444.6 237.2,445.8 250.1,446.0 257.2,446.5 270.1,446.0 281.5,445.0 288.7,442.9 295.9,439.3 302.3,437.0 307.3,440.0 316.1,446.6 324.2,450.3 332.2,452.2 340.3,455.1 349.9,457.4 358.0,463.2 364.4,465.4 380.5,465.4 391.8,464.8 403.1,465.1 412.9,465.9 424.2,463.8 432.2,462.2 438.6,458.6 448.3,456.2 454.8,454.6 464.4,454.6 472.5,451.9 483.7,449.0 491.8,449.3 499.8,450.6 504.8,450.9 512.9,454.1 524.2,456.2 532.2,459.5 546.7,461.1 564.4,461.1 577.3,462.2 587.0,463.2 593.4,461.1 599.8,458.3 608.1,457.0 614.5,458.0 620.9,461.9 640.3,461.9 656.4,460.7 664.4,462.3 674.1,461.9 680.5,459.1 690.2,454.3 699.8,449.8 708.1,447.2 716.1,442.8 724.2,435.6 733.8,425.9 741.1,422.4 746.7,425.9 756.4,425.9 767.6,420.8 774.1,420.8 780.5,421.6 787.0,426.7 796.6,431.6 804.7,438.0 814.9,451.1 822.3,456.1 830.4,466.8 838.0,478.9 845.7,497.2 857.2,510.8 869.6,516.5 882.0,517.0 891.4,516.1 897.2,514.1 904.3,510.4 912.9,507.9 922.9,505.1 930.1,505.5 937.2,506.5 942.9,506.1 947.2,503.6 950.5,502.6" fill="none" stroke="#c80c0c" stroke-width="1.5" stroke-linejoin="round"/>
<rect x="-1.1" y="486.7" width="3.6" height="3.3" fill="#12eaf0"/>
<rect x="5.6" y="486.7" width="3.6" height="2.7" fill="#12eaf0"/>
<rect x="12.4" y="486.7" width="3.6" height="1.2" fill="#12eaf0"/>
<rect x="19.1" y="482.2" width="3.6" height="4.5" fill="#e00000"/>
<rect x="25.8" y="477.5" width="3.6" height="9.2" fill="#e00000"/>
<rect x="32.6" y="474.3" width="3.6" height="12.4" fill="#e00000"/>
<rect x="39.3" y="474.3" width="3.6" height="12.4" fill="#e00000"/>
<rect x="46.1" y="475.0" width="3.6" height="11.7" fill="#e00000"/>
<rect x="52.8" y="477.9" width="3.6" height="8.8" fill="#e00000"/>
<rect x="59.5" y="477.2" width="3.6" height="9.5" fill="#e00000"/>
<rect x="66.3" y="475.0" width="3.6" height="11.7" fill="#e00000"/>
<rect x="73.0" y="478.1" width="3.6" height="8.6" fill="#e00000"/>
<rect x="79.7" y="478.1" width="3.6" height="8.6" fill="#e00000"/>
<rect x="86.5" y="476.3" width="3.6" height="10.4" fill="#e00000"/>
<rect x="93.2" y="473.8" width="3.6" height="12.9" fill="#e00000"/>
<rect x="99.9" y="472.3" width="3.6" height="14.4" fill="#e00000"/>
<rect x="106.7" y="464.2" width="3.6" height="22.5" fill="#e00000"/>
<rect x="113.4" y="463.2" width="3.6" height="23.5" fill="#e00000"/>
<rect x="120.1" y="461.6" width="3.6" height="25.1" fill="#e00000"/>
<rect x="126.9" y="460.1" width="3.6" height="26.6" fill="#e00000"/>
<rect x="133.6" y="462.0" width="3.6" height="24.7" fill="#e00000"/>
<rect x="140.4" y="462.9" width="3.6" height="23.8" fill="#e00000"/>
<rect x="147.1" y="465.0" width="3.6" height="21.7" fill="#e00000"/>
<rect x="153.8" y="466.1" width="3.6" height="20.6" fill="#e00000"/>
<rect x="160.6" y="465.8" width="3.6" height="20.9" fill="#e00000"/>
<rect x="167.3" y="467.6" width="3.6" height="19.1" fill="#e00000"/>
<rect x="174.0" y="468.6" width="3.6" height="18.1" fill="#e00000"/>
<rect x="180.8" y="470.8" width="3.6" height="15.9" fill="#e00000"/>
<rect x="187.5" y="472.9" width="3.6" height="13.8" fill="#e00000"/>
<rect x="194.2" y="476.9" width="3.6" height="9.8" fill="#e00000"/>
<rect x="201.0" y="479.8" width="3.6" height="6.9" fill="#e00000"/>
<rect x="207.7" y="478.8" width="3.6" height="7.9" fill="#e00000"/>
<rect x="214.5" y="478.7" width="3.6" height="8.0" fill="#e00000"/>
<rect x="221.2" y="477.7" width="3.6" height="9.0" fill="#e00000"/>
<rect x="227.9" y="478.7" width="3.6" height="8.0" fill="#e00000"/>
<rect x="234.7" y="480.1" width="3.6" height="6.6" fill="#e00000"/>
<rect x="241.4" y="483.0" width="3.6" height="3.7" fill="#e00000"/>
<rect x="248.1" y="484.7" width="3.6" height="2.0" fill="#e00000"/>
<rect x="254.9" y="485.5" width="3.6" height="1.2" fill="#e00000"/>
<rect x="261.6" y="485.5" width="3.6" height="1.2" fill="#e00000"/>
<rect x="268.3" y="484.0" width="3.6" height="2.7" fill="#e00000"/>
<rect x="275.1" y="484.7" width="3.6" height="2.0" fill="#e00000"/>
<rect x="281.8" y="483.0" width="3.6" height="3.7" fill="#e00000"/>
<rect x="288.5" y="480.8" width="3.6" height="5.9" fill="#e00000"/>
<rect x="295.3" y="476.9" width="3.6" height="9.8" fill="#e00000"/>
<rect x="302.0" y="474.2" width="3.6" height="12.5" fill="#e00000"/>
<rect x="308.8" y="485.2" width="3.6" height="1.5" fill="#e00000"/>
<rect x="315.5" y="486.7" width="3.6" height="7.7" fill="#12eaf0"/>
<rect x="322.2" y="486.7" width="3.6" height="10.3" fill="#12eaf0"/>
<rect x="329.0" y="486.7" width="3.6" height="8.7" fill="#12eaf0"/>
<rect x="335.7" y="486.7" width="3.6" height="11.9" fill="#12eaf0"/>
<rect x="342.4" y="486.7" width="3.6" height="12.5" fill="#12eaf0"/>
<rect x="349.2" y="486.7" width="3.6" height="13.8" fill="#12eaf0"/>
<rect x="355.9" y="486.7" width="3.6" height="19.5" fill="#12eaf0"/>
<rect x="362.6" y="486.7" width="3.6" height="18.3" fill="#12eaf0"/>
<rect x="369.4" y="486.7" width="3.6" height="16.7" fill="#12eaf0"/>
<rect x="376.1" y="486.7" width="3.6" height="13.5" fill="#12eaf0"/>
<rect x="382.9" y="486.7" width="3.6" height="9.8" fill="#12eaf0"/>
<rect x="389.6" y="486.7" width="3.6" height="6.6" fill="#12eaf0"/>
<rect x="396.3" y="486.7" width="3.6" height="4.2" fill="#12eaf0"/>
<rect x="403.1" y="486.7" width="3.6" height="5.0" fill="#12eaf0"/>
<rect x="409.8" y="486.7" width="3.6" height="5.0" fill="#12eaf0"/>
<rect x="416.5" y="486.7" width="3.6" height="1.3" fill="#12eaf0"/>
<rect x="423.3" y="485.5" width="3.6" height="1.2" fill="#e00000"/>
<rect x="430.0" y="485.2" width="3.6" height="1.5" fill="#e00000"/>
<rect x="436.7" y="480.9" width="3.6" height="5.8" fill="#e00000"/>
<rect x="443.5" y="479.6" width="3.6" height="7.1" fill="#e00000"/>
<rect x="450.2" y="478.0" width="3.6" height="8.7" fill="#e00000"/>
<rect x="456.9" y="479.6" width="3.6" height="7.1" fill="#e00000"/>
<rect x="463.7" y="479.6" width="3.6" height="7.1" fill="#e00000"/>
<rect x="470.4" y="477.6" width="3.6" height="9.1" fill="#e00000"/>
<rect x="477.2" y="476.0" width="3.6" height="10.7" fill="#e00000"/>
<rect x="483.9" y="475.2" width="3.6" height="11.5" fill="#e00000"/>
<rect x="490.6" y="480.4" width="3.6" height="6.3" fill="#e00000"/>
<rect x="497.4" y="482.0" width="3.6" height="4.7" fill="#e00000"/>
<rect x="504.1" y="484.6" width="3.6" height="2.1" fill="#e00000"/>
<rect x="510.8" y="486.7" width="3.6" height="2.2" fill="#12eaf0"/>
<rect x="517.6" y="486.7" width="3.6" height="4.5" fill="#12eaf0"/>
<rect x="524.3" y="486.7" width="3.6" height="5.0" fill="#12eaf0"/>
<rect x="531.0" y="486.7" width="3.6" height="7.7" fill="#12eaf0"/>
<rect x="537.8" y="486.7" width="3.6" height="7.7" fill="#12eaf0"/>
<rect x="544.5" y="486.7" width="3.6" height="8.7" fill="#12eaf0"/>
<rect x="551.3" y="486.7" width="3.6" height="7.7" fill="#12eaf0"/>
<rect x="558.0" y="486.7" width="3.6" height="5.8" fill="#12eaf0"/>
<rect x="564.7" y="486.7" width="3.6" height="5.0" fill="#12eaf0"/>
<rect x="571.5" y="486.7" width="3.6" height="3.3" fill="#12eaf0"/>
<rect x="578.2" y="486.7" width="3.6" height="4.2" fill="#12eaf0"/>
<rect x="584.9" y="486.7" width="3.6" height="4.2" fill="#12eaf0"/>
<rect x="591.7" y="486.7" width="3.6" height="1.2" fill="#12eaf0"/>
<rect x="598.4" y="483.8" width="3.6" height="2.9" fill="#e00000"/>
<rect x="605.1" y="483.3" width="3.6" height="3.4" fill="#e00000"/>
<rect x="611.9" y="483.3" width="3.6" height="3.4" fill="#e00000"/>
<rect x="618.6" y="486.7" width="3.6" height="3.8" fill="#12eaf0"/>
<rect x="625.3" y="486.7" width="3.6" height="4.1" fill="#12eaf0"/>
<rect x="632.1" y="486.7" width="3.6" height="3.5" fill="#12eaf0"/>
<rect x="638.8" y="486.7" width="3.6" height="3.0" fill="#12eaf0"/>
<rect x="645.6" y="486.7" width="3.6" height="1.2" fill="#12eaf0"/>
<rect x="652.3" y="486.8" width="3.6" height="1.3" fill="#d01010"/>
<rect x="659.0" y="486.8" width="3.6" height="1.3" fill="#d01010"/>
<rect x="665.8" y="486.7" width="3.6" height="1.2" fill="#12eaf0"/>
<rect x="672.5" y="486.7" width="3.6" height="1.2" fill="#12eaf0"/>
<rect x="679.2" y="484.0" width="3.6" height="2.7" fill="#e00000"/>
<rect x="686.0" y="480.0" width="3.6" height="6.7" fill="#e00000"/>
<rect x="692.7" y="476.0" width="3.6" height="10.7" fill="#e00000"/>
<rect x="699.4" y="472.9" width="3.6" height="13.8" fill="#e00000"/>
<rect x="706.2" y="471.9" width="3.6" height="14.8" fill="#e00000"/>
<rect x="712.9" y="469.1" width="3.6" height="17.6" fill="#e00000"/>
<rect x="719.7" y="464.9" width="3.6" height="21.8" fill="#e00000"/>
<rect x="726.4" y="459.8" width="3.6" height="26.9" fill="#e00000"/>
<rect x="733.1" y="454.9" width="3.6" height="31.8" fill="#e00000"/>
<rect x="739.9" y="455.7" width="3.6" height="31.0" fill="#e00000"/>
<rect x="746.6" y="468.3" width="3.6" height="18.4" fill="#e00000"/>
<rect x="753.3" y="471.8" width="3.6" height="14.9" fill="#e00000"/>
<rect x="760.1" y="471.0" width="3.6" height="15.7" fill="#e00000"/>
<rect x="766.8" y="469.4" width="3.6" height="17.3" fill="#e00000"/>
<rect x="773.5" y="473.4" width="3.6" height="13.3" fill="#e00000"/>
<rect x="780.3" y="478.8" width="3.6" height="7.9" fill="#e00000"/>
<rect x="787.0" y="486.7" width="3.6" height="1.2" fill="#12eaf0"/>
<rect x="793.7" y="486.7" width="3.6" height="6.7" fill="#12eaf0"/>
<rect x="800.5" y="486.7" width="3.6" height="12.4" fill="#12eaf0"/>
<rect x="807.2" y="486.7" width="3.6" height="17.9" fill="#12eaf0"/>
<rect x="814.0" y="486.7" width="3.6" height="32.3" fill="#12eaf0"/>
<rect x="820.7" y="486.7" width="3.6" height="34.0" fill="#12eaf0"/>
<rect x="827.4" y="486.7" width="3.6" height="42.8" fill="#12eaf0"/>
<rect x="834.2" y="486.7" width="3.6" height="52.7" fill="#12eaf0"/>
<rect x="840.9" y="486.7" width="3.6" height="58.9" fill="#12eaf0"/>
<rect x="847.6" y="486.7" width="3.6" height="68.9" fill="#12eaf0"/>
<rect x="854.4" y="486.7" width="3.6" height="67.1" fill="#12eaf0"/>
<rect x="861.1" y="486.7" width="3.6" height="58.9" fill="#12eaf0"/>
<rect x="867.8" y="486.7" width="3.6" height="53.9" fill="#12eaf0"/>
<rect x="874.6" y="486.7" width="3.6" height="42.8" fill="#12eaf0"/>
<rect x="881.3" y="486.7" width="3.6" height="31.8" fill="#12eaf0"/>
<rect x="888.1" y="486.7" width="3.6" height="26.3" fill="#12eaf0"/>
<rect x="894.8" y="486.7" width="3.6" height="19.3" fill="#12eaf0"/>
<rect x="901.5" y="486.7" width="3.6" height="10.2" fill="#12eaf0"/>
<rect x="908.3" y="486.7" width="3.6" height="5.1" fill="#12eaf0"/>
<rect x="915.0" y="485.5" width="3.6" height="1.2" fill="#e00000"/>
<rect x="921.7" y="482.9" width="3.6" height="3.8" fill="#e00000"/>
<rect x="928.5" y="485.5" width="3.6" height="1.2" fill="#e00000"/>
<rect x="935.2" y="486.7" width="3.6" height="1.2" fill="#12eaf0"/>
<rect x="941.9" y="485.5" width="3.6" height="1.2" fill="#e00000"/>
<rect x="948.7" y="482.2" width="3.6" height="4.5" fill="#e00000"/>
</g>
</svg>
</body></html>
